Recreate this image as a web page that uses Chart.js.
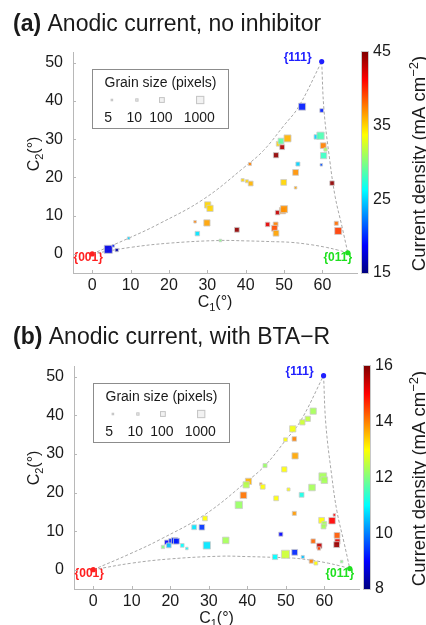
<!DOCTYPE html>
<html lang="en">
<head>
<meta charset="UTF-8">
<title>Anodic current vs grain orientation</title>
<style>
  html, body { margin: 0; padding: 0; background: #fff; }
  body { width: 426px; height: 625px; overflow: hidden; position: relative; }
  canvas { position: absolute; left: 0; }
  #chartA { top: 0; }
  #chartB { top: 313px; }
</style>
</head>
<body>
<canvas id="chartA" width="426" height="313"></canvas>
<canvas id="chartB" width="426" height="312"></canvas>
<script src="https://cdn.jsdelivr.net/npm/chart.js@4"></script>
<script>
// ---- data ----
// panel (a): no inhibitor
const c1A = [4.2, 5.5, 6.4, 9.5, 26.8, 27.4, 29.9, 30.1, 30.7, 33.4, 37.7, 39.2, 40.3, 41.3, 41.1, 45.7, 47.8, 47.5, 47.9, 48.3, 49.6, 50.0, 49.9, 53.0, 53.0, 53.6, 47.9, 48.6, 49.2, 49.5, 50.9, 54.7, 59.8, 58.4, 59.5, 60.2, 60.8, 60.3, 59.7, 62.5, 63.6, 64.1];
const c2A = [1.2, 2.1, 1.0, 4.1, 8.4, 5.3, 8.1, 12.8, 11.9, 3.5, 6.3, 19.3, 19.0, 18.4, 23.5, 7.7, 7.7, 6.7, 5.4, 10.8, 11.3, 11.7, 18.7, 17.3, 21.3, 23.5, 25.8, 28.8, 29.5, 27.9, 30.2, 38.5, 37.5, 30.6, 30.9, 28.3, 27.3, 25.7, 23.3, 18.5, 8.0, 6.0];
const currentA = [18, 19.5, 16, 25, 37.5, 25.5, 36.5, 35, 35, 30, 44.5, 35, 35, 36, 37.5, 42, 37.5, 39, 36.5, 43, 37.5, 37, 35, 36.5, 37, 25, 44.5, 35, 29, 43.5, 36, 19.5, 19.5, 25, 28.5, 37.5, 31, 28, 21, 44.5, 38, 39.5];
const grainA = [800, 5, 10, 5, 5, 30, 150, 150, 150, 5, 40, 8, 8, 40, 8, 30, 40, 100, 100, 30, 150, 300, 100, 5, 100, 20, 60, 40, 100, 40, 300, 300, 15, 30, 400, 100, 10, 150, 5, 30, 20, 300];

// panel (b): with BTA-R
const c1B = [57.1, 55.7, 54.3, 51.8, 49.9, 52.2, 52.4, 44.6, 49.6, 59.6, 60.0, 40.3, 39.7, 43.5, 44.0, 50.7, 56.8, 39.0, 54.1, 47.5, 37.8, 52.2, 29.0, 26.2, 28.2, 59.3, 62.0, 62.6, 60.0, 59.8, 63.3, 48.7, 57.1, 58.7, 58.6, 63.4, 63.2, 19.1, 20.3, 21.1, 21.6, 19.6, 18.1, 23.1, 24.3, 29.5, 34.4, 49.9, 52.3, 47.2, 54.4, 56.6, 57.8, 64.5];
const c2B = [41.1, 39.1, 38.2, 36.5, 33.7, 33.9, 29.5, 27.0, 26.0, 24.1, 23.2, 22.9, 22.0, 22.2, 21.5, 20.8, 21.3, 19.3, 19.4, 18.5, 16.8, 14.6, 13.3, 11.0, 11.0, 12.8, 12.7, 14.2, 11.9, 11.2, 8.9, 9.2, 7.4, 6.2, 5.5, 7.3, 6.5, 7.1, 7.4, 7.5, 7.4, 6.3, 5.9, 6.3, 5.5, 6.3, 7.6, 4.0, 4.5, 3.3, 3.3, 2.2, 1.7, 2.1];
const currentB = [12.3, 12.5, 12.6, 12.9, 13.0, 14.0, 13.7, 12.2, 13.0, 12.3, 12.3, 13.6, 12.4, 14.0, 13.0, 13.0, 12.3, 14.1, 11.2, 13.0, 12.2, 13.8, 13.0, 10.8, 9.4, 13.0, 15.0, 15.0, 12.3, 12.3, 14.3, 9.0, 14.2, 15.5, 14.5, 15.2, 15.8, 9.0, 9.2, 9.3, 9.2, 10.5, 12.0, 11.0, 11.0, 10.8, 12.3, 12.6, 9.3, 11.0, 10.5, 14.0, 13.0, 12.0];
const grainB = [150, 60, 60, 150, 15, 30, 150, 20, 60, 600, 200, 150, 150, 5, 40, 8, 200, 200, 40, 40, 400, 20, 40, 40, 80, 100, 200, 5, 40, 40, 100, 20, 30, 60, 10, 60, 100, 30, 60, 150, 100, 40, 10, 15, 5, 400, 200, 800, 100, 60, 8, 20, 15, 5];

// standard triangle boundary
const edgeTopC1 = [0, 9.5, 17.3, 29, 39.8, 44.6, 49.9, 53.8, 59.8];
const edgeTopC2 = [0, 4.1, 7.8, 14.3, 22.8, 27.0, 33.5, 38.5, 50.3];
const edgeRightC1 = [59.8, 60.4, 61.9, 63.3, 65.1, 66.6];
const edgeRightC2 = [50.3, 37.6, 24.5, 15.0, 7.1, 0.3];
const edgeBottomC1 = [0, 10, 20, 33, 40, 47, 52, 57, 61, 64, 66.6];
const edgeBottomC2 = [0, 1.7, 2.8, 3.5, 3.4, 3.2, 3.0, 2.4, 1.7, 1.0, 0.3];

const poleNames = ['{001}', '{011}', '{111}'];
const poleC1 = [0, 66.6, 59.8];
const poleC2 = [0, 0.3, 50.3];

const xTicks = [0, 10, 20, 30, 40, 50, 60];
const yTicks = [0, 10, 20, 30, 40, 50];
const cbTicksA = [15, 25, 35, 45];
const cbTicksB = [8, 10, 12, 14, 16];
const legendSizes = [5, 10, 100, 1000];

// ---- styling helpers ----
const FONT = '"Liberation Sans", Arial, Helvetica, sans-serif';
Chart.defaults.font.family = FONT;
Chart.defaults.color = '#1a1a1a';
const poleColors = ['#ff2020', '#1fe01f', '#2020ff'];
const axisGray = '#b8b8b8';

function jet(v, lo, hi, alpha) {
    let t = (v - lo) / (hi - lo);
    t = Math.max(0, Math.min(1, t));
    const c = k => Math.round(255 * Math.max(0, Math.min(1, k)));
    const r = c(1.5 - Math.abs(4 * t - 3));
    const g = c(1.5 - Math.abs(4 * t - 2));
    const b = c(1.5 - Math.abs(4 * t - 1));
    return 'rgba(' + r + ',' + g + ',' + b + ',' + alpha + ')';
}

// marker side in px from grain size (log scale)
function markerSide(g) { return 0.8 + 2.5 * Math.log10(g); }

// text made of pieces (for sub/superscripts), drawn from x along baseline y
function drawParts(ctx, parts, x, y, align) {
    let total = 0;
    parts.forEach(p => { ctx.font = (p.bold ? 'bold ' : '') + p.size + 'px ' + FONT; p.w = ctx.measureText(p.t).width; total += p.w; });
    let cx = align === 'center' ? x - total / 2 : x;
    ctx.textAlign = 'left';
    ctx.textBaseline = 'alphabetic';
    parts.forEach(p => {
        ctx.font = (p.bold ? 'bold ' : '') + p.size + 'px ' + FONT;
        ctx.fillText(p.t, cx, y + (p.dy || 0));
        cx += p.w;
    });
}

function decor(p) {
    return {
        id: 'decor',
        beforeDatasetsDraw(chart) {
            const { ctx, scales: { x, y } } = chart;
            const off = [[-4, 4], [-10, 5], [-24, -4]];
            ctx.save();
            ctx.font = 'bold 12px ' + FONT;
            ctx.textAlign = 'center';
            ctx.textBaseline = 'middle';
            poleNames.forEach((n, i) => {
                ctx.fillStyle = poleColors[i];
                ctx.fillText(n, x.getPixelForValue(poleC1[i]) + off[i][0], y.getPixelForValue(poleC2[i]) + off[i][1]);
            });
            ctx.restore();
        },
        afterDraw(chart) {
            const { ctx, chartArea: a, scales: { x, y } } = chart;
            ctx.save();
            ctx.fillStyle = '#1a1a1a';

            // inward tick marks
            ctx.strokeStyle = axisGray;
            ctx.lineWidth = 1;
            ctx.beginPath();
            xTicks.forEach(v => {
                const px = Math.round(x.getPixelForValue(v)) + 0.5;
                ctx.moveTo(px, a.bottom); ctx.lineTo(px, a.bottom - 3);
            });
            yTicks.forEach(v => {
                const py = Math.round(y.getPixelForValue(v)) + 0.5;
                ctx.moveTo(a.left, py); ctx.lineTo(a.left + 3, py);
            });
            ctx.stroke();

            // panel title
            drawParts(ctx, [{ t: p.tag, size: 23, bold: true }, { t: ' ' + p.title, size: 23 }], 13, 31, 'left');

            // axis titles
            drawParts(ctx, [{ t: 'C', size: 16 }, { t: '1', size: 11, dy: 4 }, { t: '(°)', size: 16 }],
                (a.left + a.right) / 2, a.bottom + 34, 'center');
            ctx.save();
            ctx.translate(27, a.top + 102);
            ctx.rotate(-Math.PI / 2);
            drawParts(ctx, [{ t: 'C', size: 16 }, { t: '2', size: 11, dy: 4 }, { t: '(°)', size: 16 }], 0, 12, 'center');
            ctx.restore();

            // grain size legend
            const lx = a.left + 19.5, ly = a.top + 17.5;
            ctx.strokeStyle = '#8c8c8c';
            ctx.strokeRect(lx, ly, 136, 59);
            ctx.font = '14px ' + FONT;
            ctx.textAlign = 'center';
            ctx.textBaseline = 'alphabetic';
            ctx.fillText('Grain size (pixels)', lx + 68, ly + 17);
            const mx = [19.4, 44.4, 69.4, 107.7];
            const tx = [15.7, 41.7, 68.4, 106.7];
            legendSizes.forEach((g, i) => {
                const s = markerSide(g) - 1;
                ctx.fillStyle = '#f2f2f2';
                ctx.strokeStyle = '#c4c4c4';
                ctx.fillRect(lx + mx[i] - s / 2, ly + 30.5 - s / 2, s, s);
                ctx.strokeRect(lx + mx[i] - s / 2, ly + 30.5 - s / 2, s, s);
                ctx.fillStyle = '#1a1a1a';
                ctx.fillText(String(g), lx + tx[i], ly + 52);
            });

            // colour bar
            const cbx = a.right + 5, cbw = 6;
            const grad = ctx.createLinearGradient(0, a.bottom, 0, a.top);
            for (let i = 0; i <= 24; i++) {
                grad.addColorStop(i / 24, jet(p.cbMin + (p.cbMax - p.cbMin) * i / 24, p.cbMin, p.cbMax, 1));
            }
            ctx.fillStyle = grad;
            ctx.fillRect(cbx, a.top, cbw, a.bottom - a.top);
            ctx.strokeStyle = '#c8c8c8';
            ctx.strokeRect(cbx - 0.5, a.top - 0.5, cbw + 1, a.bottom - a.top + 1);
            ctx.fillStyle = '#1a1a1a';
            ctx.font = '16px ' + FONT;
            ctx.textAlign = 'left';
            ctx.textBaseline = 'middle';
            p.cbTicks.forEach(v => {
                const py = a.bottom - (v - p.cbMin) / (p.cbMax - p.cbMin) * (a.bottom - a.top);
                ctx.fillText(String(v), cbx + 11, py);
            });
            ctx.save();
            ctx.translate(418, (a.top + a.bottom) / 2 + 1);
            ctx.rotate(-Math.PI / 2);
            drawParts(ctx, [{ t: 'Current density (mA cm', size: 18.5 }, { t: '−2', size: 13, dy: -7 }, { t: ')', size: 18.5 }], 0, 6.5, 'center');
            ctx.restore();

            ctx.restore();
        }
    };
}

function buildPanel(id, p) {
    const pairs = (xs, ys) => xs.map((v, i) => ({ x: v, y: ys[i] }));
    const edgeStyle = {
        showLine: true, borderColor: '#a8a8a8', borderWidth: 1, borderDash: [3, 2],
        pointRadius: 0, tension: 0.4, order: 3
    };
    const tickFont = { size: 16 };
    return new Chart(document.getElementById(id), {
        type: 'scatter',
        data: {
            datasets: [
                Object.assign({ data: pairs(edgeTopC1, edgeTopC2) }, edgeStyle),
                Object.assign({ data: pairs(edgeRightC1, edgeRightC2) }, edgeStyle),
                Object.assign({ data: pairs(edgeBottomC1, edgeBottomC2) }, edgeStyle),
                {
                    data: pairs(p.c1, p.c2),
                    pointStyle: 'rect',
                    pointRadius: p.grain.map(g => markerSide(g) / Math.SQRT2),
                    backgroundColor: p.cur.map(v => jet(v, p.cbMin, p.cbMax, 0.92)),
                    borderColor: 'rgba(205,205,205,0.8)',
                    borderWidth: 1,
                    order: 2
                },
                {
                    data: pairs(poleC1, poleC2),
                    pointStyle: 'circle',
                    pointRadius: 2.6,
                    backgroundColor: poleColors,
                    borderWidth: 0,
                    order: 1
                }
            ]
        },
        options: {
            responsive: false,
            animation: false,
            events: [],
            layout: { padding: p.pad },
            plugins: { legend: { display: false }, tooltip: { enabled: false } },
            scales: {
                x: {
                    type: 'linear', min: -5, max: 69,
                    ticks: { stepSize: 10, includeBounds: false, padding: 3, font: tickFont, color: '#1a1a1a', maxRotation: 0 },
                    grid: { display: false, drawTicks: false },
                    border: { display: true, color: axisGray, width: 1 },
                    afterFit: s => { s.height = 36; }
                },
                y: {
                    type: 'linear', min: -5, max: 52.8,
                    ticks: { stepSize: 10, includeBounds: false, padding: 10, font: tickFont, color: '#1a1a1a' },
                    grid: { display: false, drawTicks: false },
                    border: { display: true, color: axisGray, width: 1 },
                    afterFit: s => { s.width = 40; }
                }
            }
        },
        plugins: [decor(p)]
    });
}

buildPanel('chartA', {
    tag: '(a)', title: 'Anodic current, no inhibitor',
    c1: c1A, c2: c2A, cur: currentA, grain: grainA,
    cbMin: 15, cbMax: 45, cbTicks: cbTicksA,
    pad: { left: 33, right: 69, top: 52, bottom: 4 }
});

buildPanel('chartB', {
    tag: '(b)', title: 'Anodic current, with BTA−R',
    c1: c1B, c2: c2B, cur: currentB, grain: grainB,
    cbMin: 8, cbMax: 16, cbTicks: cbTicksB,
    pad: { left: 34, right: 67, top: 53, bottom: 0 }
});
</script>
</body>
</html>
